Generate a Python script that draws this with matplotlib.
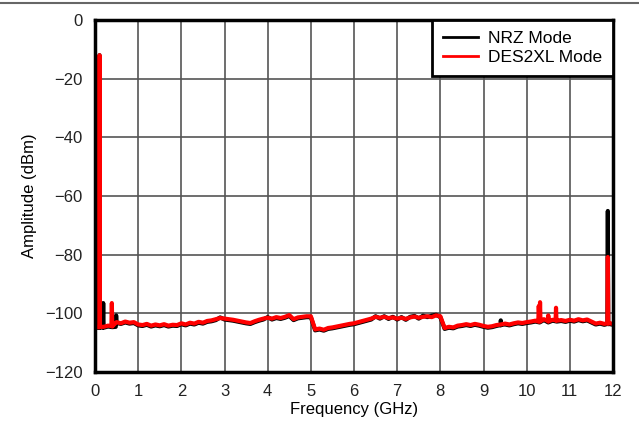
import numpy as np
import matplotlib
matplotlib.use('Agg')
import matplotlib.pyplot as plt
from matplotlib.lines import Line2D

plt.rcParams['font.family'] = ['Liberation Sans', 'DejaVu Sans']

# Base grid of the spectrum, 0.1 GHz steps
freq_grid = np.round(np.arange(0, 121) * 0.1, 1)

# DES2XL mode noise floor (dBm)
red_floor = [
    -104.5, -104.8, -104.6, -104.2, -104.5, -103.0, -103.4, -102.8, -103.2, -103.0,
    -103.8, -104.0, -103.6, -104.2, -103.8, -104.1, -103.7, -104.2, -103.9, -104.0,
    -103.4, -103.8, -103.2, -103.5, -102.9, -103.2, -102.6, -102.4, -102.0, -101.6,
    -101.8, -102.0, -102.2, -102.5, -102.8, -103.1, -103.3, -102.7, -102.2, -101.8,
    -101.5, -101.8, -101.3, -101.6, -101.2, -100.6, -102.0, -101.4, -101.2, -101.0,
    -101.0, -105.5, -105.2, -105.6, -105.0, -104.8, -104.5, -104.2, -103.9, -103.6,
    -103.4, -103.0, -102.6, -102.2, -101.8, -101.2, -101.5, -101.2, -101.6, -101.4,
    -101.8, -101.5, -101.9, -101.4, -101.1, -101.5, -101.2, -101.0, -101.3, -100.7,
    -101.0, -105.0, -104.6, -104.8, -104.2, -104.0, -103.7, -104.0, -103.6, -103.9,
    -104.3, -104.6, -104.4, -104.0, -103.8, -103.5, -103.8, -103.4, -103.1, -103.3,
    -103.0, -102.8, -102.5, -102.8, -102.0, -102.8, -102.2, -102.5, -102.3, -102.6,
    -102.2, -102.5, -102.0, -102.4, -102.1, -102.8, -103.5, -103.2, -103.6, -103.3,
    -103.6,
]

# NRZ mode noise floor (dBm)
black_floor = [
    -104.8, -105.0, -104.9, -104.5, -104.7, -103.3, -103.6, -103.1, -103.5, -103.3,
    -104.1, -104.3, -103.9, -104.5, -104.1, -104.4, -104.0, -104.5, -104.2, -104.3,
    -103.7, -104.1, -103.5, -103.8, -103.2, -103.5, -102.9, -102.7, -102.3, -101.4,
    -102.1, -102.3, -102.5, -102.8, -103.1, -103.4, -103.6, -103.0, -102.5, -102.1,
    -101.3, -102.1, -101.6, -101.9, -101.5, -100.9, -102.3, -101.7, -101.5, -101.3,
    -101.3, -105.8, -105.5, -105.9, -105.3, -105.1, -104.8, -104.5, -104.2, -103.9,
    -103.7, -103.3, -102.9, -102.5, -102.1, -101.0, -101.8, -101.0, -101.9, -101.2,
    -102.1, -101.3, -102.2, -101.2, -100.9, -101.8, -100.8, -101.3, -100.8, -100.5,
    -101.3, -105.3, -104.9, -105.1, -104.5, -104.3, -104.0, -104.3, -103.9, -104.2,
    -104.6, -104.9, -104.7, -104.3, -104.1, -103.8, -104.1, -103.7, -103.4, -103.6,
    -103.3, -103.1, -102.8, -103.1, -102.3, -103.1, -102.5, -102.8, -102.6, -102.9,
    -102.5, -102.8, -102.3, -102.7, -102.4, -103.1, -103.8, -103.5, -103.9, -103.6,
    -103.9,
]

# Spurs: narrow peaks with their base points
red_spur_f = [0.095, 0.105, 0.115, 0.38, 0.39, 0.40, 10.27, 10.28, 10.295, 10.31, 10.32,
              10.49, 10.50, 10.51, 10.67, 10.68, 10.69, 11.87, 11.88, 11.89]
red_spur_a = [-104.8, -12.0, -104.6, -104.3, -96.5, -104.4, -102.8, -97.5, -102.6, -96.2, -102.7,
              -102.6, -100.7, -102.7, -102.4, -98.1, -102.5, -103.4, -80.8, -103.5]
black_spur_f = [0.095, 0.105, 0.115, 0.18, 0.19, 0.20, 0.48, 0.49, 0.50,
                9.39, 9.40, 9.41, 11.87, 11.88, 11.89]
black_spur_a = [-105.0, -12.0, -104.9, -104.8, -96.5, -104.9, -104.6, -100.7, -103.3,
                -104.0, -102.4, -103.9, -103.6, -65.1, -103.7]


def merge(base_f, base_a, spur_f, spur_a):
    f = np.concatenate([base_f, spur_f])
    a = np.concatenate([base_a, spur_a])
    order = np.argsort(f, kind='stable')
    return f[order], a[order]


black_f, black_a = merge(freq_grid, black_floor, black_spur_f, black_spur_a)
red_f, red_a = merge(freq_grid, red_floor, red_spur_f, red_spur_a)

fig = plt.figure(figsize=(6.39, 4.28), dpi=100)
ax = fig.add_axes([95 / 639, 1 - 372 / 428, (613 - 95) / 639, (372 - 20) / 428])

ax.plot(black_f, black_a, color='black', lw=3.0, label='NRZ Mode')
ax.plot(red_f, red_a, color='#ff0000', lw=3.0, label='DES2XL Mode')

ax.set_xlim(0, 12)
ax.set_ylim(-120, 0)
ax.set_xticks(range(0, 13))
ax.set_yticks(range(-120, 1, 20))
ax.grid(True, color='#555555', lw=1.2)
ax.set_axisbelow(True)
ax.tick_params(length=0, pad=9, labelsize=12, colors='#222222')
for s in ax.spines.values():
    s.set_linewidth(2.5)
    s.set_color('black')

ax.set_xlabel('Frequency (GHz)', fontsize=12, labelpad=2)
ax.set_ylabel('Amplitude (dBm)', fontsize=12, labelpad=6)

leg = ax.legend(loc='upper right', borderaxespad=0, fancybox=False, framealpha=1,
                edgecolor='black', fontsize=12.5, handlelength=2.0, labelspacing=0.25,
                borderpad=0.62, handletextpad=0.6)
leg.get_frame().set_linewidth(2)
for h in leg.get_lines():
    h.set_linewidth(2)

# thin rule across the top of the figure
fig.add_artist(Line2D([0, 1], [1 - 3 / 428, 1 - 3 / 428], color='#666666', lw=1.5))

fig.savefig('out.png', dpi=100)
